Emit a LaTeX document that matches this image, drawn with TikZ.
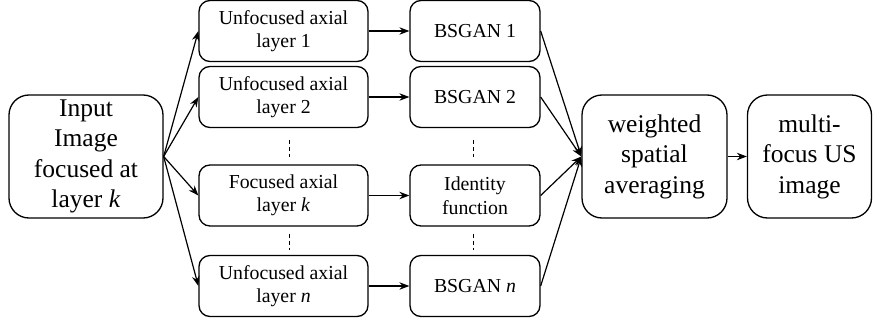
\documentclass[tikz,border=0pt]{standalone}
\usepackage{fontspec}
\setmainfont{Liberation Serif}
\usetikzlibrary{arrows.meta}
\tikzset{
  box/.style={draw, line width=1.3pt, rounded corners=11pt, align=center, inner sep=0pt,
    font=\fontsize{19.8}{23.5}\selectfont},
  bigbox/.style={draw, line width=1.3pt, rounded corners=20pt, align=center, inner sep=0pt,
    font=\fontsize{25.5}{30.5}\selectfont},
  arr/.style={line width=1.2pt, -{Stealth[length=10pt,width=7.5pt]}},
  dots/.style={line width=0.8pt, dash pattern=on 4pt off 3pt}
}
\begin{document}
\begin{tikzpicture}[x=1pt,y=-1pt]
  \useasboundingbox (0,0) rectangle (873,321);
  % source image
  \node[bigbox, minimum width=154pt, minimum height=123pt] (in) at (86,156.5)
    {Input\\Image\\focused at\\layer \textit{k}};
  % axial layers
  \node[box, minimum width=169pt, minimum height=61pt] (l1) at (283.5,31) {Unfocused axial\\layer 1};
  \node[box, minimum width=169pt, minimum height=61pt] (l2) at (283.5,97) {Unfocused axial\\layer 2};
  \node[box, minimum width=169pt, minimum height=61pt] (lk) at (283.5,195.5) {Focused axial\\layer \textit{k}};
  \node[box, minimum width=169pt, minimum height=61pt] (ln) at (283.5,286) {Unfocused axial\\layer \textit{n}};
  % per-layer processing
  \node[box, minimum width=130pt, minimum height=61pt] (g1) at (475,31) {BSGAN 1};
  \node[box, minimum width=130pt, minimum height=61pt] (g2) at (475,97) {BSGAN 2};
  \node[box, minimum width=130pt, minimum height=61pt] (id) at (475,195.5) {Identity\\function};
  \node[box, minimum width=130pt, minimum height=61pt] (gn) at (475,286) {BSGAN \textit{n}};
  % fusion and output
  \node[bigbox, minimum width=145pt, minimum height=123pt] (avg) at (654.5,156.5)
    {weighted\\spatial\\averaging};
  \node[bigbox, minimum width=124pt, minimum height=123pt] (out) at (809.5,156.5)
    {multi-\\focus US\\image};
  % fan-out
  \foreach \t in {l1,l2,lk,ln} \draw[arr] (in.east) -- (\t.west);
  % layer to processing
  \draw[arr] (l1) -- (g1);
  \draw[arr] (l2) -- (g2);
  \draw[arr] (lk) -- (id);
  \draw[arr] (ln) -- (gn);
  % fan-in
  \foreach \s in {g1,g2,id,gn} \draw[arr] (\s.east) -- (avg.west);
  \draw[arr] (avg) -- (out);
  % ellipsis between rows
  \draw[dots] ([xshift=6pt,yshift=-12pt]l2.south) -- ([xshift=6pt,yshift=7pt]lk.north);
  \draw[dots] ([xshift=-2pt,yshift=-12pt]g2.south) -- ([xshift=-2pt,yshift=7pt]id.north);
  \draw[dots] ([xshift=6pt,yshift=-7pt]lk.south) -- ([xshift=6pt,yshift=5pt]ln.north);
  \draw[dots] ([xshift=-2pt,yshift=-7pt]id.south) -- ([xshift=-2pt,yshift=5pt]gn.north);
\end{tikzpicture}
\end{document}
